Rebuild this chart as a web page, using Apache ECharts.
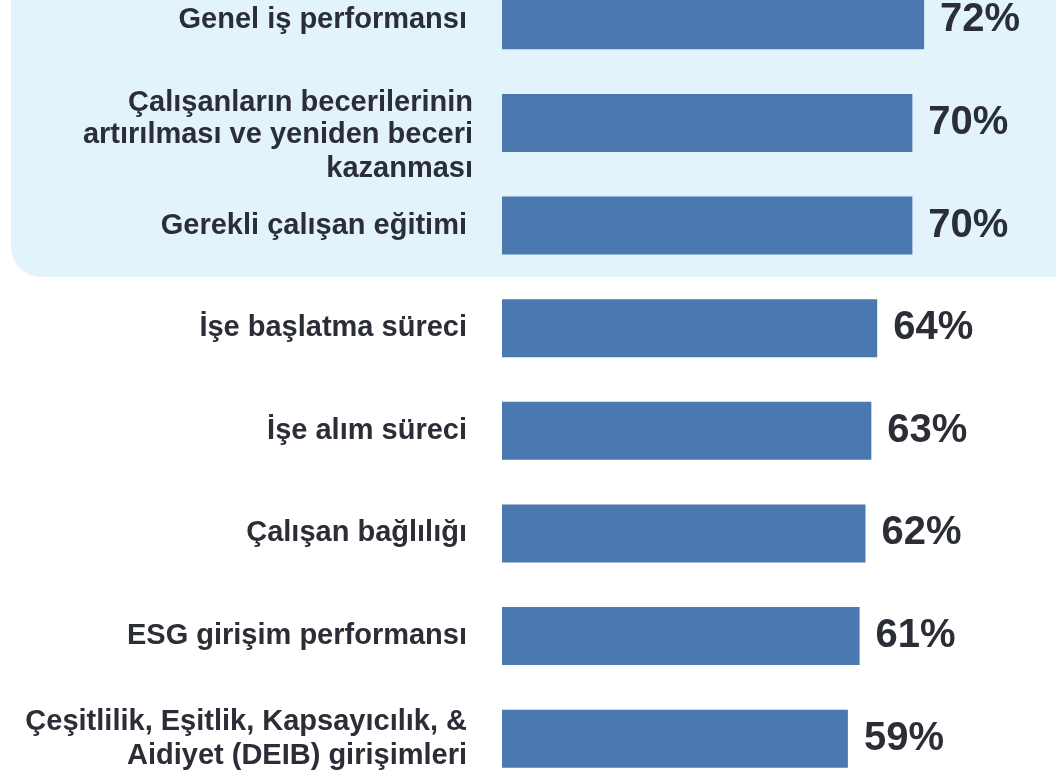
<!DOCTYPE html>
<html>
<head>
<meta charset="utf-8">
<style>
  html, body { margin: 0; padding: 0; background: #fff; overflow: hidden; width: 1056px; height: 771px; }
  /* chart is taller than the window: first and last bands run off the edges */
  #chart { position: absolute; left: 0; top: -31px; width: 1056px; height: 821px; }
</style>
<script src="https://cdn.jsdelivr.net/npm/echarts@6/dist/echarts.min.js"></script>
</head>
<body>
<div id="chart"></div>
<script>
const categories = [
  'Genel iş performansı',
  'Çalışanların becerilerinin\nartırılması ve yeniden beceri\nkazanması',
  'Gerekli çalışan eğitimi',
  'İşe başlatma süreci',
  'İşe alım süreci',
  'Çalışan bağlılığı',
  'ESG girişim performansı',
  'Çeşitlilik, Eşitlik, Kapsayıcılık, &\nAidiyet (DEIB) girişimleri'
];
const values = [72, 70, 70, 64, 63, 62, 61, 59];

const textColor = '#2b2e36';
const barColor = '#4a78af';
const panelColor = '#e2f3fb';

const chart = echarts.init(document.getElementById('chart'));

const labelFont = { fontSize: 29, lineHeight: 34, fontWeight: 'bold', color: textColor };

// the others keep a little room on the right
const yData = categories.map((c, i) => ({
  value: c,
  textStyle: i === 1 ? { padding: 0 } : { padding: [0, 6, 0, 0] }
}));

chart.setOption({
  backgroundColor: '#fff',
  animation: false,
  textStyle: { fontFamily: '"Liberation Sans", Arial, sans-serif' },
  graphic: [{
    type: 'rect',
    z: -1,
    silent: true,
    shape: { x: 11, y: -10, width: 1100, height: 318, r: 30 },
    style: { fill: panelColor }
  }],
  grid: { left: 502, right: 0, top: 0, bottom: 0, containLabel: false },
  xAxis: {
    type: 'value',
    min: 0,
    max: 94.5,
    show: false
  },
  yAxis: {
    type: 'category',
    inverse: true,
    data: yData,
    axisLine: { show: false },
    axisTick: { show: false },
    splitLine: { show: false },
    axisLabel: {
      margin: 29,
      align: 'right',
      ...labelFont,
      // 3-line label sits lower than its bar: taller first line, text at its bottom
      formatter: (v, i) => {
        if (i !== 1) return v;
        const lines = v.split('\n');
        return '{t|' + lines[0] + '}\n' + lines.slice(1).map(l => '{n|' + l + '}').join('\n');
      },
      rich: {
        t: { ...labelFont, lineHeight: 58, verticalAlign: 'bottom' },
        n: { ...labelFont }
      }
    }
  },
  series: [{
    type: 'bar',
    data: values,
    barWidth: 58,
    itemStyle: { color: barColor },
    label: {
      show: true,
      position: 'right',
      distance: 16,
      formatter: '{c}%',
      fontSize: 40,
      fontWeight: 'bold',
      color: textColor
    }
  }]
});
</script>
</body>
</html>
